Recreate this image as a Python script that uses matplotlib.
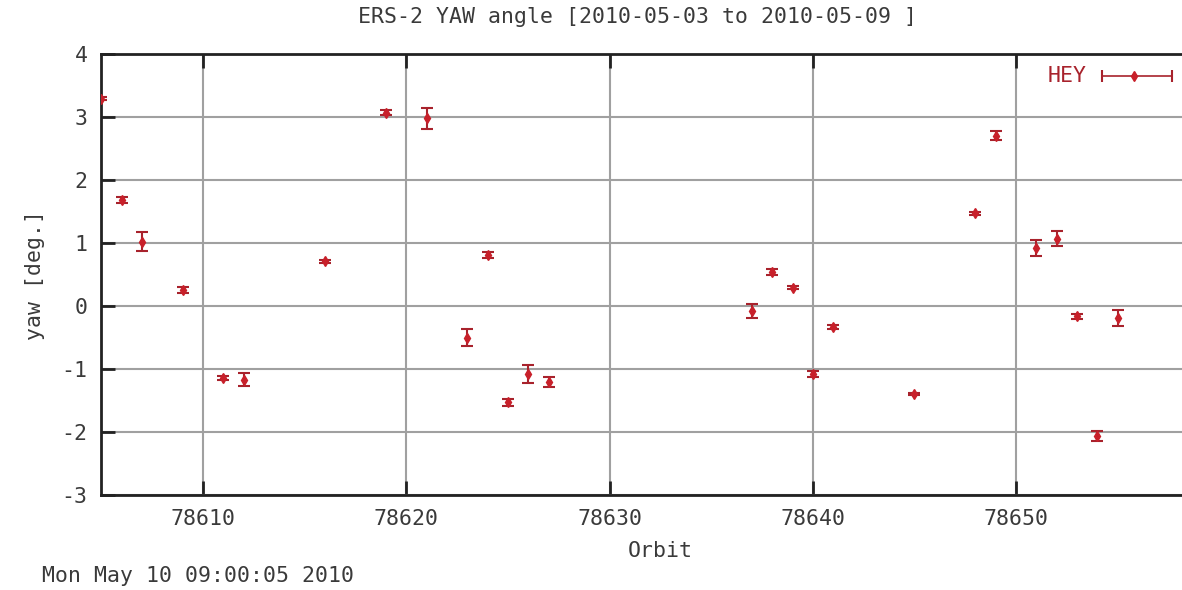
import numpy as np
import matplotlib
matplotlib.use("Agg")
from matplotlib import pyplot as plt

# orbit numbers, yaw angle and error
orbit = [78605, 78606, 78607, 78609, 78611, 78612, 78616, 78619, 78621,
         78623, 78624, 78625, 78626, 78627, 78637, 78638, 78639, 78640,
         78641, 78645, 78648, 78649, 78651, 78652, 78653, 78654, 78655]
yaw = [3.29, 1.68, 1.02, 0.25, -1.14, -1.17, 0.71, 3.07, 2.98,
       -0.50, 0.81, -1.53, -1.08, -1.20, -0.08, 0.54, 0.29, -1.08,
       -0.33, -1.40, 1.47, 2.70, 0.92, 1.07, -0.16, -2.06, -0.19]
err = [0.02, 0.05, 0.15, 0.05, 0.03, 0.10, 0.02, 0.04, 0.17,
       0.13, 0.05, 0.05, 0.14, 0.08, 0.11, 0.05, 0.02, 0.05,
       0.03, 0.02, 0.02, 0.07, 0.13, 0.12, 0.04, 0.08, 0.12]

xticks = [78610, 78620, 78630, 78640, 78650]
yticks = [-3, -2, -1, 0, 1, 2, 3, 4]

plt.rcParams['axes.unicode_minus'] = False
mono = 'DejaVu Sans Mono'
fs = 15.5
txtc = '#3a3a3a'
red = '#c8202a'
dred = '#a8222c'

W, H = 1182, 590
fig = plt.figure(figsize=(W/100, H/100), dpi=100)
ax = fig.add_axes([101.4/W, 95/H, 1118/W, 441/H])

ax.errorbar(orbit, yaw, yerr=err, fmt='d', ms=5, color=red, mfc=red, mec=red,
            ecolor=dred, elinewidth=1.5, capsize=4, capthick=1.5, zorder=3)

ax.set_xlim(78605, 78660)
ax.set_ylim(-3, 4)
ax.set_xticks(xticks)
ax.set_yticks(yticks)
ax.grid(True, color='#a0a0a0', lw=1.5)
ax.set_axisbelow(True)
for s in ax.spines.values():
    s.set_linewidth(2)
    s.set_color('#222222')
ax.tick_params(direction='in', length=10, width=2, color='#222222',
               top=True, right=False, labelsize=fs, labelcolor=txtc, pad=10)
for lb in ax.get_xticklabels() + ax.get_yticklabels():
    lb.set_family(mono)

ax.set_xlabel('Orbit', family=mono, fontsize=fs, color=txtc, labelpad=9)
ax.set_ylabel('yaw [deg.]', family=mono, fontsize=fs, color=txtc, labelpad=12)
fig.text(638/W, 1 - 17/H, 'ERS-2 YAW angle [2010-05-03 to 2010-05-09 ]',
         family=mono, fontsize=fs, color=txtc, ha='center', va='center')
fig.text(42/W, 1 - 576/H, 'Mon May 10 09:00:05 2010', family=mono,
         fontsize=fs, color=txtc, ha='left', va='center')

# legend key, gnuplot style
ly = 1 - 76/H
fig.text(1087/W, ly, 'HEY', family=mono, fontsize=fs, color=dred,
         ha='right', va='center')
fig.add_artist(plt.Line2D([1102/W, 1172/W], [ly, ly], color=dred, lw=1.2))
fig.add_artist(plt.Line2D([1102/W, 1172/W], [ly, ly], ls='none', marker='|',
                          ms=8, mew=1.5, color=dred))
fig.add_artist(plt.Line2D([1134/W], [ly], ls='none', marker='d', ms=5,
                          color=red))

fig.savefig('out.png', dpi=100)
